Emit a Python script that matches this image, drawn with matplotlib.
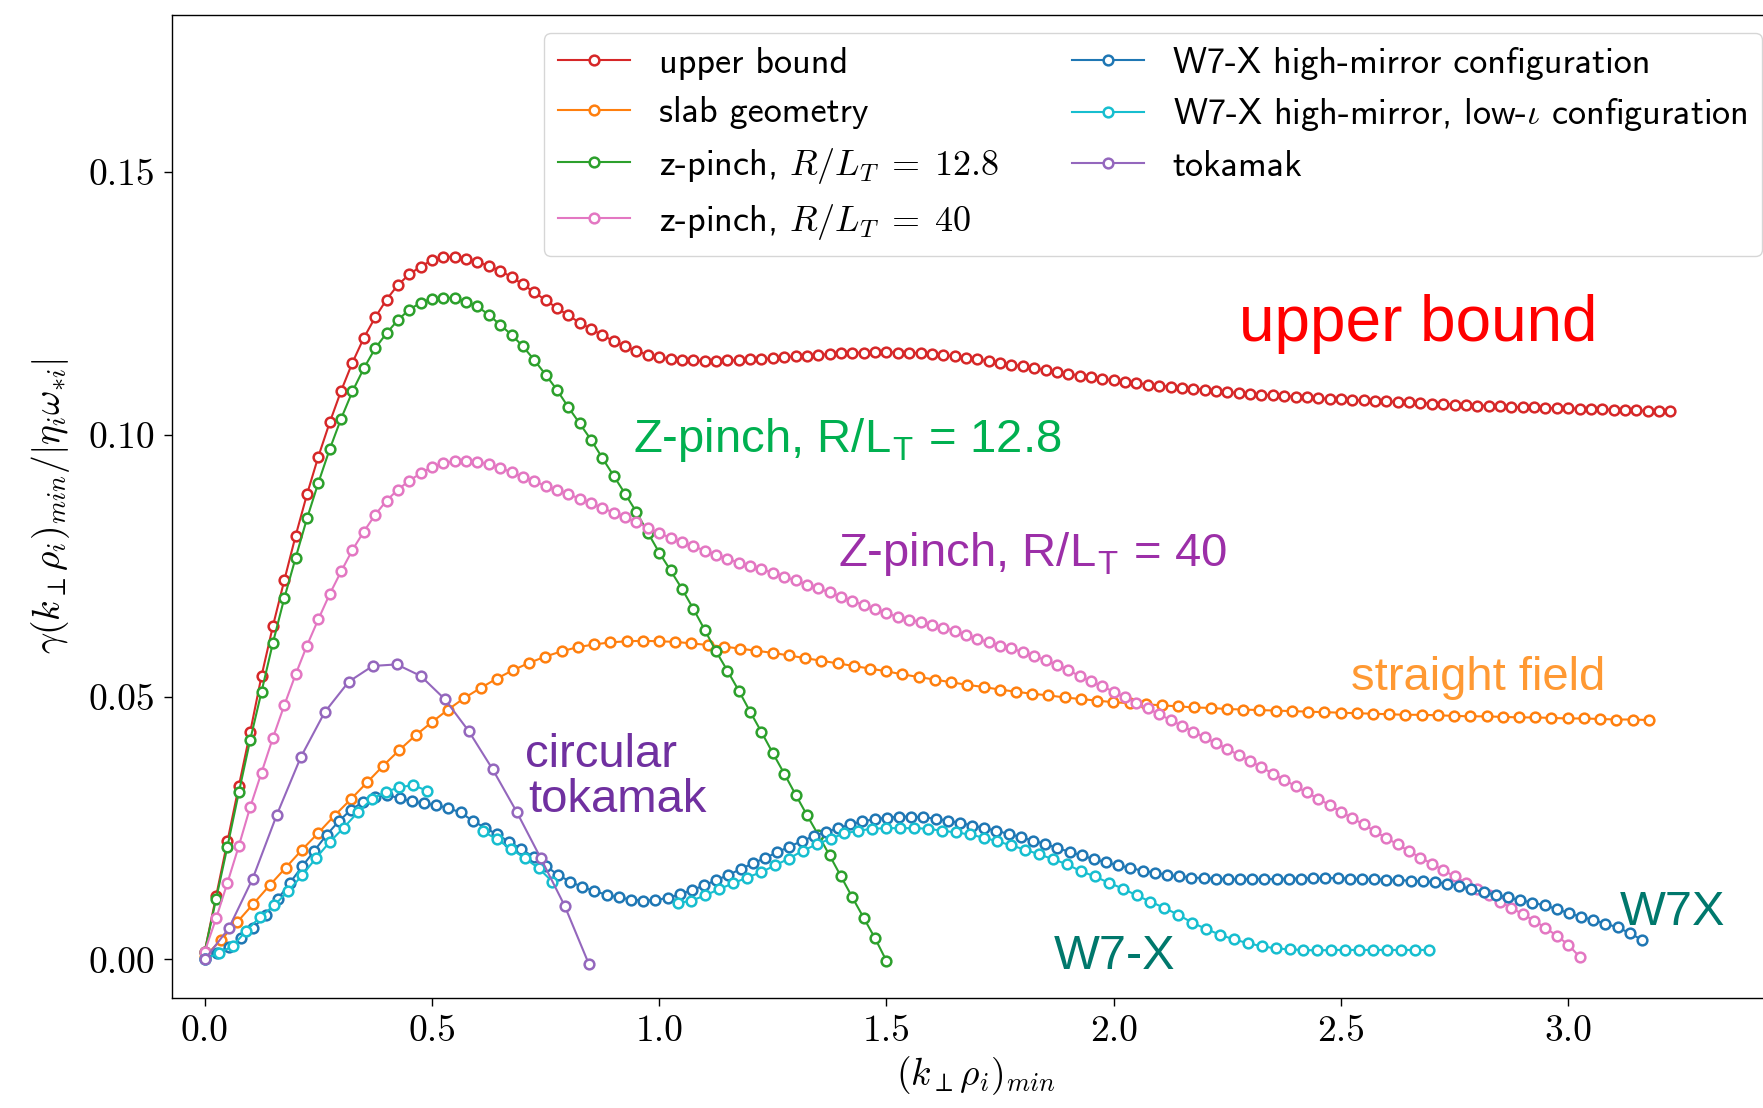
import numpy as np
import matplotlib
matplotlib.use('Agg')
import matplotlib.pyplot as plt

plt.rcParams['mathtext.fontset'] = 'cm'

# ---------------- data ----------------
red_dk = 0.025
red_vals = [0.0015, 0.0120, 0.0225, 0.0330, 0.0433, 0.0540, 0.0635, 0.0722, 0.0807, 0.0886,
            0.0958, 0.1023, 0.1083, 0.1137, 0.1184, 0.1223, 0.1257, 0.1285, 0.1305, 0.1320,
            0.1332, 0.1338, 0.1339, 0.1335, 0.1329, 0.1321, 0.1312, 0.1300, 0.1286, 0.1271,
            0.1256, 0.1241, 0.1227, 0.1213, 0.1201, 0.1189, 0.1178, 0.1168, 0.1159, 0.1152,
            0.1147, 0.1144, 0.1142, 0.1141, 0.1140, 0.1140, 0.1141, 0.1142, 0.1143, 0.1144,
            0.1145, 0.1147, 0.1149, 0.1150, 0.1152, 0.1153, 0.1155, 0.1156, 0.1156, 0.1157,
            0.1157, 0.1156, 0.1156, 0.1155, 0.1153, 0.1151, 0.1149, 0.1146, 0.1143, 0.1140,
            0.1137, 0.1133, 0.1130, 0.1126, 0.1123, 0.1119, 0.1116, 0.1112, 0.1109, 0.1106,
            0.1103, 0.1100, 0.1098, 0.1095, 0.1093, 0.1091, 0.1089, 0.1087, 0.1085, 0.1083,
            0.1081, 0.1079, 0.1078, 0.1076, 0.1075, 0.1073, 0.1072, 0.1071, 0.1069, 0.1068,
            0.1067, 0.1066, 0.1065, 0.1064, 0.1063, 0.1062, 0.1061, 0.1060, 0.1059, 0.1058,
            0.1057, 0.1056, 0.1055, 0.1055, 0.1054, 0.1053, 0.1052, 0.1052, 0.1051, 0.1050,
            0.1050, 0.1049, 0.1048, 0.1048, 0.1047, 0.1047, 0.1046, 0.1045, 0.1045, 0.1044]

orange_dk = 0.0357
orange_vals = [0.0005, 0.0037, 0.0071, 0.0106, 0.0141, 0.0175, 0.0209, 0.0241, 0.0274, 0.0305,
               0.0337, 0.0369, 0.0399, 0.0427, 0.0452, 0.0476, 0.0498, 0.0517, 0.0535, 0.0551,
               0.0565, 0.0577, 0.0587, 0.0595, 0.0600, 0.0604, 0.0606, 0.0607, 0.0606, 0.0605,
               0.0602, 0.0599, 0.0596, 0.0592, 0.0588, 0.0584, 0.0579, 0.0574, 0.0569, 0.0564,
               0.0559, 0.0554, 0.0549, 0.0543, 0.0538, 0.0533, 0.0528, 0.0523, 0.0519, 0.0514,
               0.0510, 0.0506, 0.0503, 0.0499, 0.0496, 0.0493, 0.0490, 0.0488, 0.0486, 0.0484,
               0.0482, 0.0480, 0.0479, 0.0477, 0.0476, 0.0475, 0.0474, 0.0473, 0.0472, 0.0471,
               0.0470, 0.0469, 0.0468, 0.0467, 0.0466, 0.0466, 0.0465, 0.0464, 0.0463, 0.0463,
               0.0462, 0.0461, 0.0461, 0.0460, 0.0459, 0.0459, 0.0458, 0.0457, 0.0457, 0.0456]

green_dk = 0.025
green_vals = [0.0015, 0.0115, 0.0215, 0.0318, 0.0418, 0.0510, 0.0603, 0.0688, 0.0765, 0.0840,
              0.0908, 0.0972, 0.1030, 0.1082, 0.1126, 0.1164, 0.1193, 0.1218, 0.1238, 0.1251,
              0.1259, 0.1261, 0.1260, 0.1253, 0.1244, 0.1228, 0.1209, 0.1190, 0.1168, 0.1142,
              0.1114, 0.1085, 0.1052, 0.1021, 0.0990, 0.0955, 0.0921, 0.0887, 0.0852, 0.0813,
              0.0775, 0.0741, 0.0706, 0.0668, 0.0628, 0.0587, 0.0550, 0.0512, 0.0472, 0.0433,
              0.0393, 0.0354, 0.0314, 0.0275, 0.0237, 0.0198, 0.0158, 0.0118, 0.0079, 0.0040,
              -0.0003]

pink_dk = 0.025
pink_vals = [0.0015, 0.0078, 0.0146, 0.0216, 0.0290, 0.0356, 0.0422, 0.0484, 0.0543, 0.0598,
             0.0648, 0.0696, 0.0739, 0.0780, 0.0815, 0.0847, 0.0874, 0.0895, 0.0912, 0.0926,
             0.0938, 0.0945, 0.0949, 0.0950, 0.0948, 0.0943, 0.0937, 0.0928, 0.0919, 0.0911,
             0.0902, 0.0894, 0.0886, 0.0878, 0.0869, 0.0860, 0.0851, 0.0842, 0.0833, 0.0822,
             0.0812, 0.0803, 0.0795, 0.0787, 0.0779, 0.0771, 0.0763, 0.0756, 0.0749, 0.0743,
             0.0737, 0.0729, 0.0722, 0.0714, 0.0707, 0.0699, 0.0691, 0.0683, 0.0675, 0.0667,
             0.0660, 0.0652, 0.0647, 0.0643, 0.0637, 0.0632, 0.0626, 0.0618, 0.0611, 0.0604,
             0.0598, 0.0593, 0.0585, 0.0578, 0.0570, 0.0561, 0.0552, 0.0539, 0.0530, 0.0520,
             0.0510, 0.0499, 0.0488, 0.0478, 0.0467, 0.0456, 0.0445, 0.0434, 0.0423, 0.0412,
             0.0401, 0.0389, 0.0378, 0.0366, 0.0354, 0.0342, 0.0330, 0.0318, 0.0306, 0.0294,
             0.0281, 0.0269, 0.0257, 0.0244, 0.0231, 0.0219, 0.0206, 0.0194, 0.0182, 0.0170,
             0.0158, 0.0146, 0.0134, 0.0122, 0.0110, 0.0098, 0.0086, 0.0074, 0.0060, 0.0045,
             0.0028, 0.0005]

blue_dk = 0.0268
blue_vals = [0.0000, 0.0012, 0.0024, 0.0040, 0.0060, 0.0085, 0.0115, 0.0146, 0.0177, 0.0207,
             0.0237, 0.0263, 0.0285, 0.0300, 0.0310, 0.0313, 0.0307, 0.0301, 0.0297, 0.0294,
             0.0288, 0.0280, 0.0264, 0.0251, 0.0238, 0.0224, 0.0210, 0.0195, 0.0178, 0.0161,
             0.0148, 0.0138, 0.0130, 0.0123, 0.0118, 0.0114, 0.0112, 0.0113, 0.0117, 0.0124,
             0.0132, 0.0141, 0.0151, 0.0161, 0.0172, 0.0183, 0.0193, 0.0204, 0.0215, 0.0225,
             0.0235, 0.0243, 0.0250, 0.0257, 0.0263, 0.0267, 0.0270, 0.0272, 0.0272, 0.0271,
             0.0268, 0.0264, 0.0260, 0.0255, 0.0250, 0.0245, 0.0239, 0.0233, 0.0226, 0.0220,
             0.0212, 0.0205, 0.0198, 0.0191, 0.0185, 0.0179, 0.0174, 0.0169, 0.0165, 0.0161,
             0.0158, 0.0156, 0.0155, 0.0154, 0.0153, 0.0153, 0.0153, 0.0153, 0.0153, 0.0154,
             0.0154, 0.0155, 0.0155, 0.0155, 0.0154, 0.0153, 0.0153, 0.0152, 0.0151, 0.0150,
             0.0149, 0.0147, 0.0144, 0.0140, 0.0134, 0.0128, 0.0123, 0.0118, 0.0113, 0.0108,
             0.0103, 0.0096, 0.0088, 0.0081, 0.0075, 0.0068, 0.0061, 0.0050, 0.0037]

nan = float('nan')
cyan_dk = 0.0306
cyan_vals = [0.0000, 0.0012, 0.0025, 0.0055, 0.0081, 0.0103, 0.0130, 0.0160, 0.0193, 0.0224,
             0.0251, 0.0280, 0.0305, 0.0319, 0.0328, 0.0332, 0.0321, nan, nan, nan,
             0.0244, 0.0229, 0.0211, 0.0193, 0.0174, 0.0148, nan, nan, nan, nan,
             nan, nan, nan, nan, 0.0107, 0.0112, 0.0122, 0.0134, 0.0145, 0.0156,
             0.0166, 0.0179, 0.0192, 0.0207, 0.0219, 0.0230, 0.0240, 0.0245, 0.0249, 0.0250,
             0.0250, 0.0250, 0.0249, 0.0245, 0.0242, 0.0238, 0.0232, 0.0225, 0.0217, 0.0209,
             0.0200, 0.0191, 0.0181, 0.0168, 0.0158, 0.0146, 0.0135, 0.0122, 0.0110, 0.0098,
             0.0085, 0.0070, 0.0058, 0.0047, 0.0038, 0.0031, 0.0025, 0.0021, 0.0019, 0.0018,
             0.0017, 0.0018, 0.0018, 0.0018, 0.0018, 0.0018, 0.0018, 0.0018, 0.0018]

purple_dk = 0.0528
purple_vals = [0.0000, 0.0059, 0.0154, 0.0275, 0.0385, 0.0471, 0.0529, 0.0559, 0.0562,
               0.0540, 0.0496, 0.0435, 0.0362, 0.0281, 0.0193, 0.0102, -0.0008]

series_labels = ['upper bound', 'slab geometry', r'z-pinch, $R/L_T\;=\;12.8$',
                 r'z-pinch, $R/L_T\;=\;40$', 'W7-X high-mirror configuration',
                 r'W7-X high-mirror, low-$\iota$ configuration', 'tokamak']
series_colors = ['#d62728', '#ff7f0e', '#2ca02c', '#e377c2', '#1f77b4', '#17becf', '#9467bd']

xtick_vals = [0.0, 0.5, 1.0, 1.5, 2.0, 2.5, 3.0]
xtick_labels = ['0.0', '0.5', '1.0', '1.5', '2.0', '2.5', '3.0']
ytick_vals = [0.00, 0.05, 0.10, 0.15]
ytick_labels = ['0.00', '0.05', '0.10', '0.15']

# ---------------- figure ----------------
W, H = 1763, 1108
fig = plt.figure(figsize=(W / 100, H / 100), dpi=100)
ax = fig.add_axes([172 / W, 1 - 997.7 / H, (1780 - 172) / W, (997.7 - 14.6) / H])

all_vals = [red_vals, orange_vals, green_vals, pink_vals, blue_vals, cyan_vals, purple_vals]
all_dk = [red_dk, orange_dk, green_dk, pink_dk, blue_dk, cyan_dk, purple_dk]
for vals, dk, col, lab in zip(all_vals, all_dk, series_colors, series_labels):
    k = np.arange(len(vals)) * dk
    ax.plot(k, np.array(vals, dtype=float), '-o', color=col, lw=1.5, ms=7,
            mfc='white', mec=col, mew=1.8, label=lab)

ax.set_xlim(-0.072, 3.466)
ax.set_ylim(-0.0073, 0.1800)

ax.set_xticks(xtick_vals, labels=xtick_labels)
ax.set_yticks(ytick_vals, labels=ytick_labels)
ax.tick_params(axis='both', which='major', labelsize=27, length=6, width=1.0, pad=6)
for lbl in ax.get_xticklabels() + ax.get_yticklabels():
    lbl.set_fontfamily('cmr10')
for sp in ax.spines.values():
    sp.set_linewidth(1.0)

ax.set_xlabel(r'$(k_\perp\rho_i)_{min}$', fontsize=27, labelpad=5)
ax.set_ylabel(r'$\gamma(k_\perp\rho_i)_{min}/|\eta_i\omega_{*i}|$', fontsize=27, labelpad=12)

leg = ax.legend(loc='upper right', ncol=2, prop={'family': 'cmss10', 'size': 26},
                labelspacing=0.45, handlelength=2.0, handletextpad=0.8,
                columnspacing=2.0, borderaxespad=0.5)

# ---------------- annotations ----------------
sans = 'Liberation Sans'
ax.text(2.670, 0.1179, 'upper bound', color='#ff0000', fontsize=46, family=sans,
        ha='center', va='baseline')
ax.text(0.943, 0.0967, r'Z-pinch, R/L$_\mathregular{T}$ = 12.8', color='#00b050',
        fontsize=34, family=sans, ha='left', va='baseline')
ax.text(1.393, 0.0750, r'Z-pinch, R/L$_\mathregular{T}$ = 40', color='#9c2fa8',
        fontsize=34, family=sans, ha='left', va='baseline')
ax.text(2.802, 0.0514, 'straight field', color='#ff9933', fontsize=34, family=sans,
        ha='center', va='baseline')
ax.text(0.705, 0.0367, 'circular', color='#7030a0', fontsize=34, family=sans,
        ha='left', va='baseline')
ax.text(0.712, 0.0281, 'tokamak', color='#7030a0', fontsize=34, family=sans,
        ha='left', va='baseline')
ax.text(1.869, -0.0019, 'W7-X', color='#00786c', fontsize=35, family=sans,
        ha='left', va='baseline')
ax.text(3.114, 0.0066, 'W7X', color='#00786c', fontsize=35, family=sans,
        ha='left', va='baseline')

fig.savefig('out.png', dpi=100)
